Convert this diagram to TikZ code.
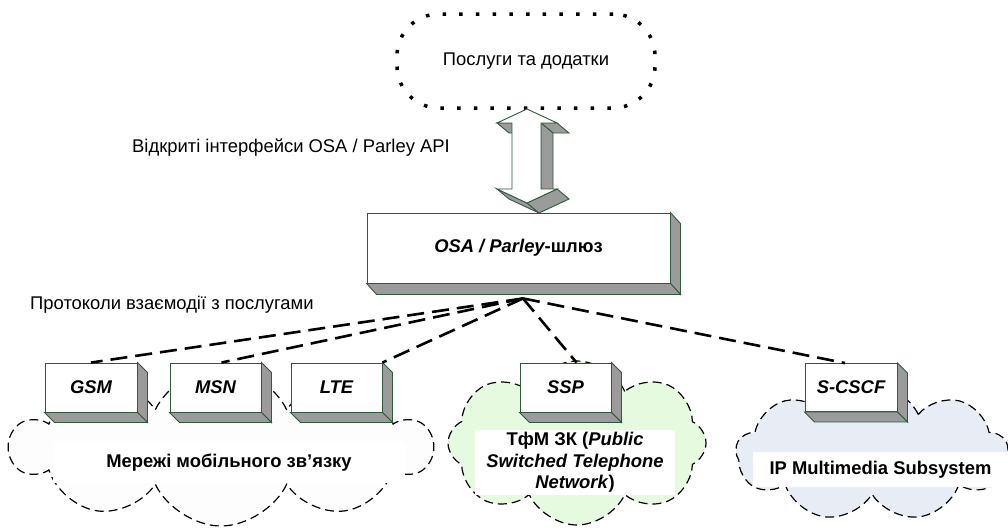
\documentclass[tikz,border=0pt]{standalone}
\usepackage{fontspec}
\setmainfont{Liberation Sans}
\usetikzlibrary{shapes.symbols,calc}
\definecolor{edgegreen}{RGB}{47,90,60}
\definecolor{sidegray}{RGB}{155,155,155}
\definecolor{pstnfill}{RGB}{230,250,224}
\definecolor{imsfill}{RGB}{232,236,245}
\definecolor{mobfill}{RGB}{253,253,253}
\begin{document}
\begin{tikzpicture}[x=1pt,y=-1pt,
  every node/.style={font=\fontsize{18.4}{21.5}\selectfont},
  front/.style={draw=edgegreen,fill=white,line width=0.9pt,inner sep=0pt,
    font=\fontsize{18.4}{21.5}\selectfont\bfseries\itshape},
  frontface/.style={draw=edgegreen,fill=white,line width=0.9pt,line join=miter},
  side/.style={draw=edgegreen,fill=sidegray,line width=0.9pt,line join=miter},
  netcloud/.style={cloud,cloud puffs=10,cloud puff arc=130,cloud ignores aspect,
    draw=black,line width=1.2pt,dash pattern=on 9pt off 5pt,inner sep=0pt},
  cloudlabel/.style={fill=white,inner sep=0pt,align=center,
    font=\fontsize{18.4}{21.5}\selectfont\bfseries},
  link/.style={line width=2.6pt,dash pattern=on 17pt off 8pt},
  servicecloud/.style={draw=black,line width=3.5pt,dash pattern=on 3.5pt off 13.2pt,
    rounded corners=42pt,minimum width=258pt,minimum height=94pt,inner sep=0pt},
  plainlabel/.style={anchor=base west,inner sep=0pt}
]
\fill[white] (0,0) rectangle (1008,530);
\useasboundingbox (0,0) rectangle (1008,530);

% clouds
\node[netcloud,fill=mobfill,minimum width=420pt,minimum height=158pt] (mob) at (221,447) {};
\node[netcloud,cloud puffs=8,fill=pstnfill,minimum width=258pt,minimum height=164pt] (pstn) at (577,443) {};
\node[netcloud,cloud puffs=9,fill=imsfill,minimum width=272pt,minimum height=136pt] (ims) at (872,453) {};

\node[cloudlabel,minimum width=352pt,minimum height=41pt] (mobtxt) at (229,462.5) {Мережі мобільного зв’язку};
\node[cloudlabel,minimum width=200pt,minimum height=65pt] (pstntxt) at (575,462.5)
  {ТфМ ЗК (\textit{Public}\\\textit{Switched Telephone}\\\textit{Network})};
\node[cloudlabel,minimum width=255pt,minimum height=35pt] (imstxt) at (880.5,469.5) {IP Multimedia Subsystem};

% services
\node[servicecloud] (svc) at (526,61) {Послуги та додатки};

% double arrow
\draw[side] (497,123) -- (512,123) -- (524,133) -- (509,133) -- cycle;
\draw[side] (541,123) -- (557,123) -- (569,133) -- (553,133) -- cycle;
\draw[side] (541,123) -- (553,133) -- (553,199) -- (541,189) -- cycle;
\draw[side] (497,189) -- (527,203) -- (539,213) -- (509,199) -- cycle;
\draw[side] (527,203) -- (557,189) -- (569,199) -- (539,213) -- cycle;
\draw[frontface] (527,109) -- (557,123) -- (541,123) -- (541,189) -- (557,189)
  -- (527,203) -- (497,189) -- (512,189) -- (512,123) -- (497,123) -- cycle;

% gateway
\node[front,minimum width=303pt,minimum height=70pt] (gw) at (518.5,248) {OSA / Parley{\upshape -шлюз}};
\draw[side] (gw.north east) -- ++(10,11) -- ($(gw.south east)+(10,11)$) -- (gw.south east) -- cycle;
\draw[side] (gw.south west) -- (gw.south east) -- ++(10,11) -- ($(gw.south west)+(10,11)$) -- cycle;

% network boxes
\node[front,minimum width=92pt,minimum height=49pt] (gsm) at (91,387.5) {GSM};
\node[front,minimum width=91pt,minimum height=49pt] (msn) at (215.5,387.5) {MSN};
\node[front,minimum width=91pt,minimum height=49pt] (lte) at (336.5,387.5) {LTE};
\node[front,minimum width=91pt,minimum height=49pt] (ssp) at (565.5,387.5) {SSP};
\node[front,minimum width=92pt,minimum height=48pt] (cscf) at (851,387.5) {S-CSCF};
\foreach \n in {gsm,msn,lte,ssp,cscf}{
  \draw[side] (\n.north east) -- ++(10,10) -- ($(\n.south east)+(10,10)$) -- (\n.south east) -- cycle;
  \draw[side] (\n.south west) -- (\n.south east) -- ++(10,10) -- ($(\n.south west)+(10,10)$) -- cycle;
}

% links
\coordinate (hub) at ($(gw.south)+(4.5,15)$);
\draw[link] (hub) -- (gsm.north);
\draw[link] (hub) -- ($(msn.north)+(6,0)$);
\draw[link] (hub) -- (lte.north east);
\draw[link] (hub) -- ($(ssp.north)+(11,0)$);
\draw[link] (hub) -- ($(cscf.north)+(-6,0)$);

% labels
\node[plainlabel] (apilabel) at (132,152) {Відкриті інтерфейси OSA / Parley API};
\node[plainlabel] (protolabel) at (30,309) {Протоколи взаємодії з послугами};
\end{tikzpicture}
\end{document}
